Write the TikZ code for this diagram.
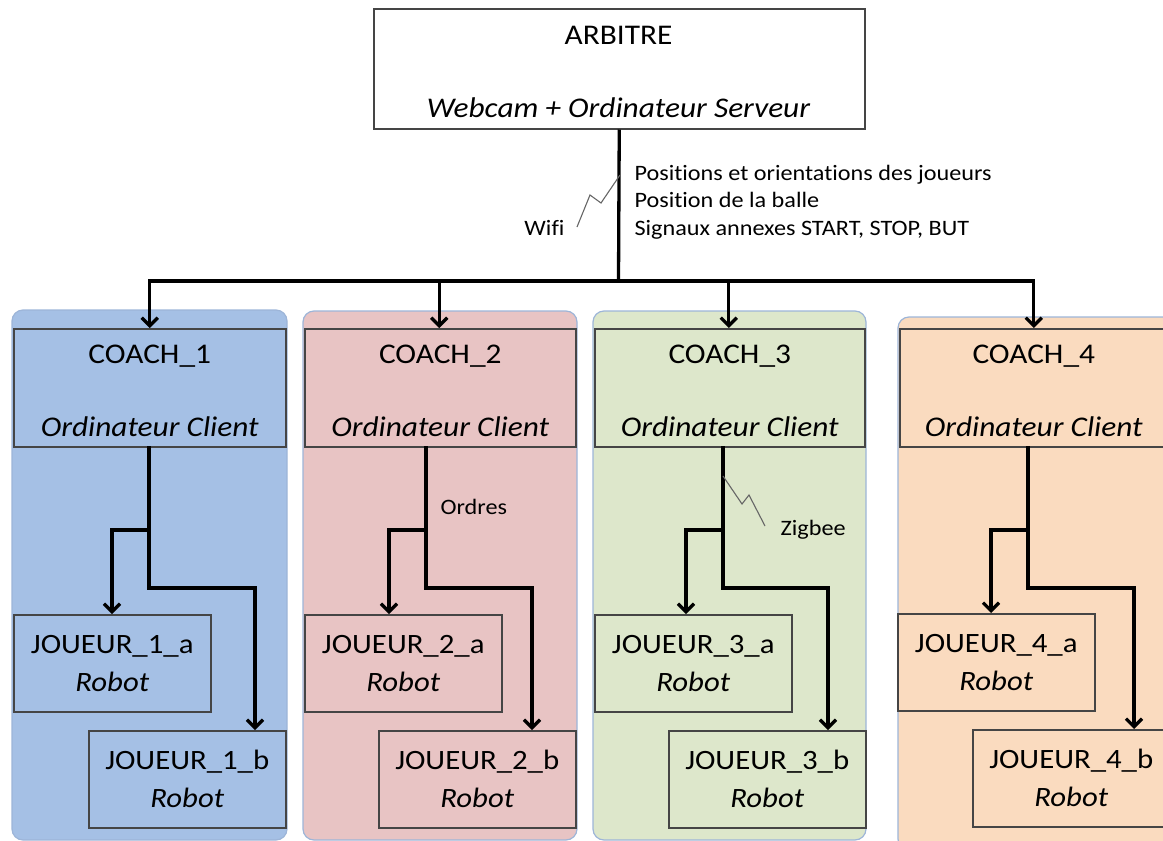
\documentclass[tikz,border=0pt]{standalone}
\usepackage{fontspec}
\setmainfont{Carlito}[FakeStretch=1.1, Ligatures=NoCommon]
\usetikzlibrary{arrows.meta}
\definecolor{pblue}{HTML}{A5C0E5}
\definecolor{ppink}{HTML}{E8C4C4}
\definecolor{pgreen}{HTML}{DDE7CB}
\definecolor{ppeach}{HTML}{FADBBF}
\definecolor{pedge}{HTML}{9DB5D8}
\definecolor{bedge}{HTML}{454545}
\tikzset{
  panel/.style={draw=pedge, line width=1.2pt, rounded corners=11pt},
  box/.style={draw=bedge, line width=1.5pt, anchor=north west, inner sep=0pt},
  big/.style={font=\fontsize{28.5}{38}\selectfont},
  small/.style={font=\fontsize{22}{27}\selectfont},
  player/.style={draw=bedge, line width=1.5pt, anchor=north west, inner sep=0pt,
     minimum width=197pt, minimum height=97pt, align=center, font=\fontsize{28}{38}\selectfont},
  wire/.style={line width=3.3pt, line join=miter},
  arr/.style={wire, -{Straight Barb[length=8pt,width=16pt]}},
  zz/.style={draw=gray!80!black, line width=1.1pt},
}
\begin{document}
\begin{tikzpicture}[x=1pt,y=-1pt]
\useasboundingbox (0,0) rectangle (1163,841);
% panels
\draw[panel, fill=pblue] (12,310) rectangle (287,840);
\draw[panel, fill=ppink] (303,311) rectangle (577,840);
\draw[panel, fill=pgreen] (593,311) rectangle (866,840);
\draw[panel, fill=ppeach] (898,317) rectangle (1180,850);
% arbitre
\node[box, fill=white, minimum width=491pt, minimum height=120pt] (arb) at (373,8) {};
\node[big, anchor=base] (arbt) at (618.5,44) {ARBITRE};
\node[big, anchor=base] (arbs) at (618.5,117) {\itshape Webcam + Ordinateur Serveur};
% coaches
\node[box, minimum width=272pt, minimum height=118pt] (c1) at (13,328) {};
\node[box, minimum width=271pt, minimum height=118pt] (c2) at (304,328) {};
\node[box, minimum width=270pt, minimum height=118pt] (c3) at (594,328) {};
\node[box, minimum width=268pt, minimum height=118pt] (c4) at (899,328) {};
\foreach \i in {1,2,3,4}{
  \node[big, anchor=base] (c\i t) at ([yshift=-35pt]c\i.north) {COACH\_\i};
  \node[big, anchor=base] (c\i s) at ([yshift=-108pt]c\i.north) {\itshape Ordinateur Client};
}
% players
\node[player] (j1a) at (13,614) {JOUEUR\_1\_a\\\textit{Robot}};
\node[player] (j1b) at (88,730) {JOUEUR\_1\_b\\\textit{Robot}};
\node[player] (j2a) at (304,614) {JOUEUR\_2\_a\\\textit{Robot}};
\node[player] (j2b) at (378,730) {JOUEUR\_2\_b\\\textit{Robot}};
\node[player] (j3a) at (594,614) {JOUEUR\_3\_a\\\textit{Robot}};
\node[player] (j3b) at (668,730) {JOUEUR\_3\_b\\\textit{Robot}};
\node[player] (j4a) at (897,613) {JOUEUR\_4\_a\\\textit{Robot}};
\node[player] (j4b) at (972,729) {JOUEUR\_4\_b\\\textit{Robot}};
% bus from arbitre
\coordinate (bus) at (618.5,281);
\draw[wire] (arb.south) -- (bus);
\draw[arr] (bus) -| (c1.north);
\draw[arr] (bus) -| ([xshift=-1pt]c2.north);
\draw[arr] (bus) -| ([xshift=-1pt]c3.north);
\draw[arr] (bus) -| (c4.north);
% coach to players
\foreach \i/\x/\l/\r in {1/149/112/255, 2/426/389/532, 3/723/686/828, 4/1028/991/1134}{
  \coordinate (o\i) at (\x,446);
  \coordinate (s\i) at (\x,530);
  \coordinate (la\i) at (\l,530);
  \coordinate (rb\i) at (\r,588);
  \draw[arr] (o\i) -- (s\i) -- (la\i) -- (la\i |- j\i a.north);
  \draw[arr] (s\i) |- (rb\i) -- (rb\i |- j\i b.north);
}
% wifi
\draw[zz] (620,175) -- (601,203) -- (590,195) -- (577,227);
\node[small, anchor=base east] (wifi) at (568,235) {Wifi};
\node[small, anchor=base west] (i1) at (631,180) {Positions et orientations des joueurs};
\node[small, anchor=base west] (i2) at (631,207) {Position de la balle};
\node[small, anchor=base west] (i3) at (631,235) {Signaux annexes START, STOP, BUT};
% ordres
\node[small, anchor=base west] (ord) at (437,514) {Ordres};
% zigbee
\draw[zz] (723,476) -- (742,504) -- (749,495) -- (765,526);
\node[small, anchor=base west] (zig) at (777,535) {Zigbee};
\end{tikzpicture}
\end{document}
